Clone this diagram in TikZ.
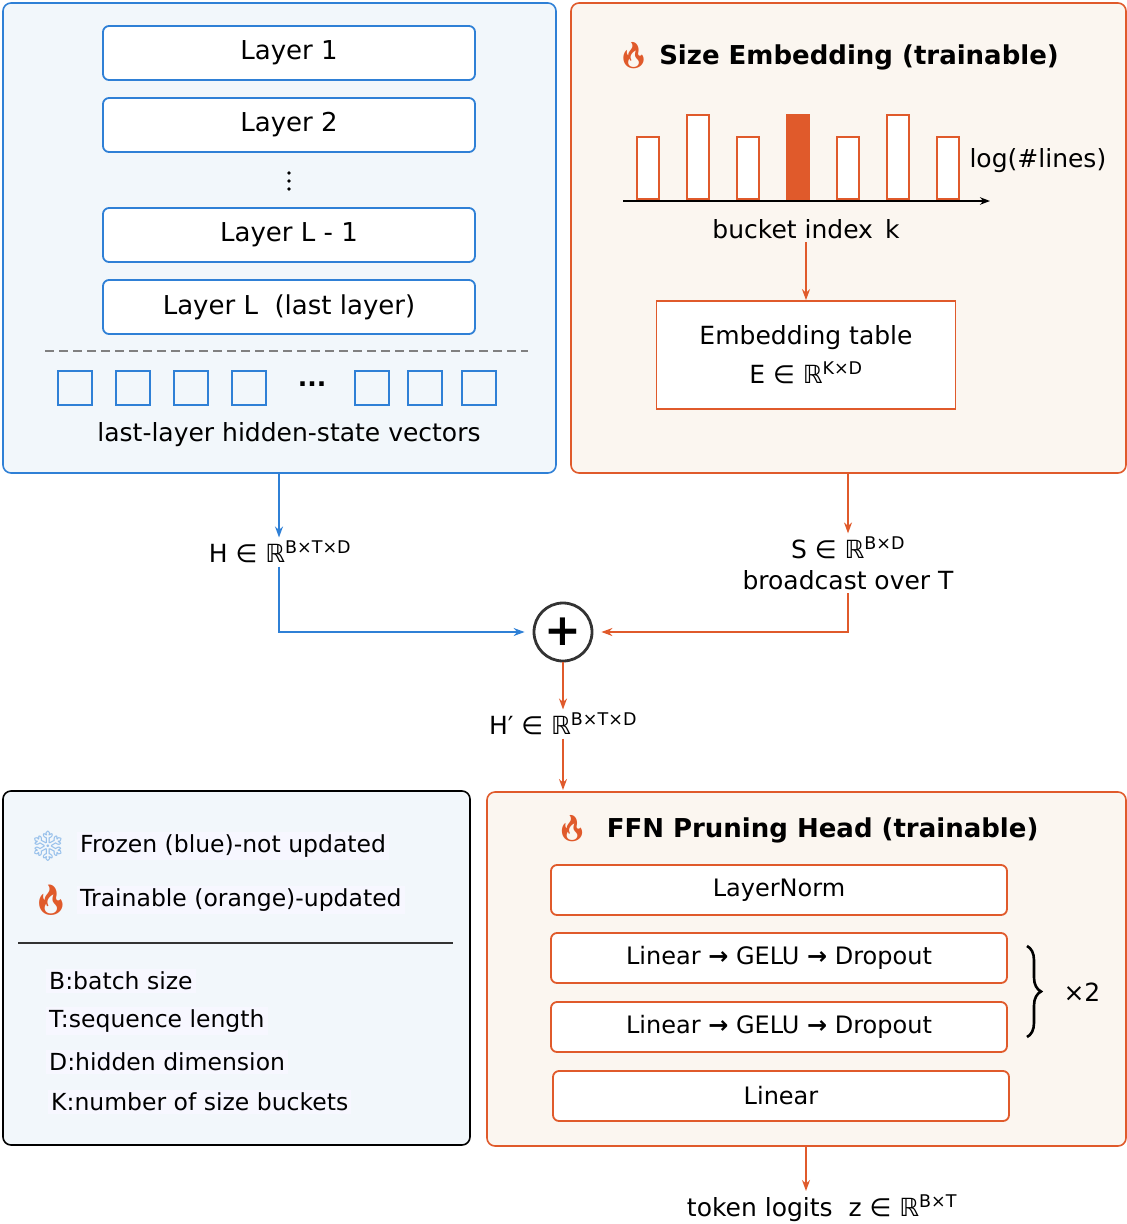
\documentclass[tikz,border=0pt]{standalone}
\usepackage{fontspec}
\setmainfont{DejaVu Sans}
\newfontfamily\emoji{Noto Emoji}
\usetikzlibrary{positioning,arrows.meta,decorations.pathreplacing}
\definecolor{frzblue}{HTML}{2F80D6}
\definecolor{trnorange}{HTML}{E05A2B}
\definecolor{bluebg}{HTML}{F2F7FB}
\definecolor{orangebg}{HTML}{FBF6F0}
\definecolor{darkgray}{HTML}{333333}
\newcommand{\sx}[1]{\textsuperscript{#1}}
\newcommand{\flame}{{\emoji\textcolor{trnorange}{🔥}}}
\tikzset{
  panel/.style={rounded corners=8pt, line width=1.6pt},
  layerbox/.style={draw=frzblue, fill=white, rounded corners=6pt, line width=1.8pt,
    minimum width=372pt, minimum height=54pt, font=\fontsize{26}{30}\selectfont},
  headbox/.style={draw=trnorange, fill=white, rounded corners=6pt, line width=1.8pt,
    minimum width=456pt, minimum height=50pt, font=\fontsize{24}{28}\selectfont},
  vecbox/.style={draw=frzblue, line width=1.8pt, minimum size=34pt, inner sep=0pt},
  bar/.style={draw=trnorange, line width=1.8pt, fill=white},
  lbl/.style={font=\fontsize{25}{29}\selectfont},
  legtxt/.style={font=\fontsize{23.5}{27}\selectfont, anchor=west, fill=blue!3, inner sep=3pt},
  bluearrow/.style={draw=frzblue, line width=1.6pt, -{Stealth[length=11pt,width=8pt]}},
  orangearrow/.style={draw=trnorange, line width=1.6pt, -{Stealth[length=11pt,width=8pt]}},
}
\begin{document}
\begin{tikzpicture}[x=1pt,y=-1pt]
\useasboundingbox (0,0) rectangle (1127,1224);

% frozen backbone
\draw[panel, draw=frzblue, fill=bluebg] (3,3) rectangle (556,473);
\node[layerbox] (l1) at (289,53) {Layer 1};
\node[layerbox] (l2) at (289,125) {Layer 2};
\foreach \y in {173,181,189}
  \fill (289,\y) circle (1.8pt);
\node[layerbox] (lm) at (289,235) {Layer L - 1};
\node[layerbox] (ll) at (289,307) {Layer L \ (last layer)};
\draw[gray, dash pattern=on 9pt off 5pt, line width=1.6pt] (45,351) -- (528,351);
\foreach \x/\n in {75/v1,133/v2,191/v3,249/v4,372/v5,425/v6,479/v7}
  \node[vecbox] (\n) at (\x,388) {};
\node[lbl] (vdots) at (312,384) {\textbf{...}};
\node[lbl] (hidden) at (289,435) {last-layer hidden-state vectors};

% size embedding
\draw[panel, draw=trnorange, fill=orangebg] (571,3) rectangle (1126,473);
\node[font=\fontsize{26}{30}\selectfont\bfseries] (setitle) at (838,56) {\flame\ Size Embedding (trainable)};
\foreach \x/\t in {648/137,698/115,748/137,848/137,898/115,948/137}
  \draw[bar] (\x-11,\t) rectangle (\x+11,199);
\draw[bar, fill=trnorange] (787,115) rectangle (809,199);
\coordinate (ax0) at (623,201);
\coordinate (ax1) at (990,201);
\draw[line width=2pt, -{Stealth[length=10pt]}] (ax0) -- (ax1);
\node[lbl, anchor=west] (loglines) at (966,161) {log(\#lines)};
\node[lbl] (bucket) at (806,229) {bucket index\, k};
\node[draw=trnorange, fill=white, line width=1.8pt, minimum width=299pt, minimum height=108pt,
  align=center, lbl] (emb) at (806,355) {Embedding table\\[10pt] E ∈ ℝ\sx{K×D}};
\draw[orangearrow] (bucket) -- (emb);

% combine
\node[circle, draw=darkgray, line width=2.8pt, minimum size=58pt, inner sep=0pt,
  font=\fontsize{44}{44}\selectfont\bfseries] (plus) at (563,632) {+};
\node[lbl] (hlab) at (280,552) {H ∈ ℝ\sx{B×T×D}};
\node[lbl] (slab) at (848,548) {S ∈ ℝ\sx{B×D}};
\node[lbl] (bcast) at (848,580) {broadcast over T};
\node[lbl] (hplab) at (563,724) {H′ ∈ ℝ\sx{B×T×D}};
\draw[bluearrow] (279,473) -- (hlab.north -| 279,0);
\draw[bluearrow] (hlab.south -| 279,0) |- ([xshift=-8pt]plus.west);
\draw[orangearrow] (848,473) -- (slab.north);
\draw[orangearrow] (bcast.south) |- ([xshift=8pt]plus.east);
\draw[orangearrow] (plus.south) -- (hplab.north);

% legend
\draw[panel, draw=black, fill=bluebg] (3,791) rectangle (470,1145);
\node[font=\fontsize{30}{30}\selectfont] (snow) at (48,846) {{\emoji\textcolor{frzblue!50}{❄}}};
\node[legtxt] (frozen) at (77,846) {Frozen (blue)-not updated};
\node[font=\fontsize{30}{30}\selectfont] (fire) at (51,900) {\flame};
\node[legtxt] (trainable) at (77,900) {Trainable (orange)-updated};
\draw[darkgray, line width=1.6pt] (18,943) -- (453,943);
\node[legtxt] (kb) at (46,981) {B:batch size};
\node[legtxt] (kt) at (46,1021) {T:sequence length};
\node[legtxt] (kd) at (46,1062) {D:hidden dimension};
\node[legtxt] (kk) at (48,1102) {K:number of size buckets};

% pruning head
\draw[panel, draw=trnorange, fill=orangebg] (487,792) rectangle (1126,1146);
\draw[orangearrow] (hplab.south) -- (563,790);
\node[font=\fontsize{26}{30}\selectfont\bfseries] (fftitle) at (797,829) {\flame\ \ FFN Pruning Head (trainable)};
\node[headbox] (norm) at (779,890) {LayerNorm};
\node[headbox] (lin1) at (779,958) {Linear {\bfseries →} GELU {\bfseries →} Dropout};
\node[headbox] (lin2) at (779,1027) {Linear {\bfseries →} GELU {\bfseries →} Dropout};
\node[headbox] (lin3) at (781,1096) {Linear};
\draw[decorate, decoration={brace, amplitude=14pt}, line width=2.6pt]
  (1027,946) -- (1027,1037);
\node[lbl, anchor=west] (times) at (1060,992) {×2};
\node[lbl] (logits) at (822,1208) {token logits\ \ z ∈ ℝ\sx{B×T}};
\draw[orangearrow] (806,1146) -- (logits.north -| 806,0);
\end{tikzpicture}
\end{document}
